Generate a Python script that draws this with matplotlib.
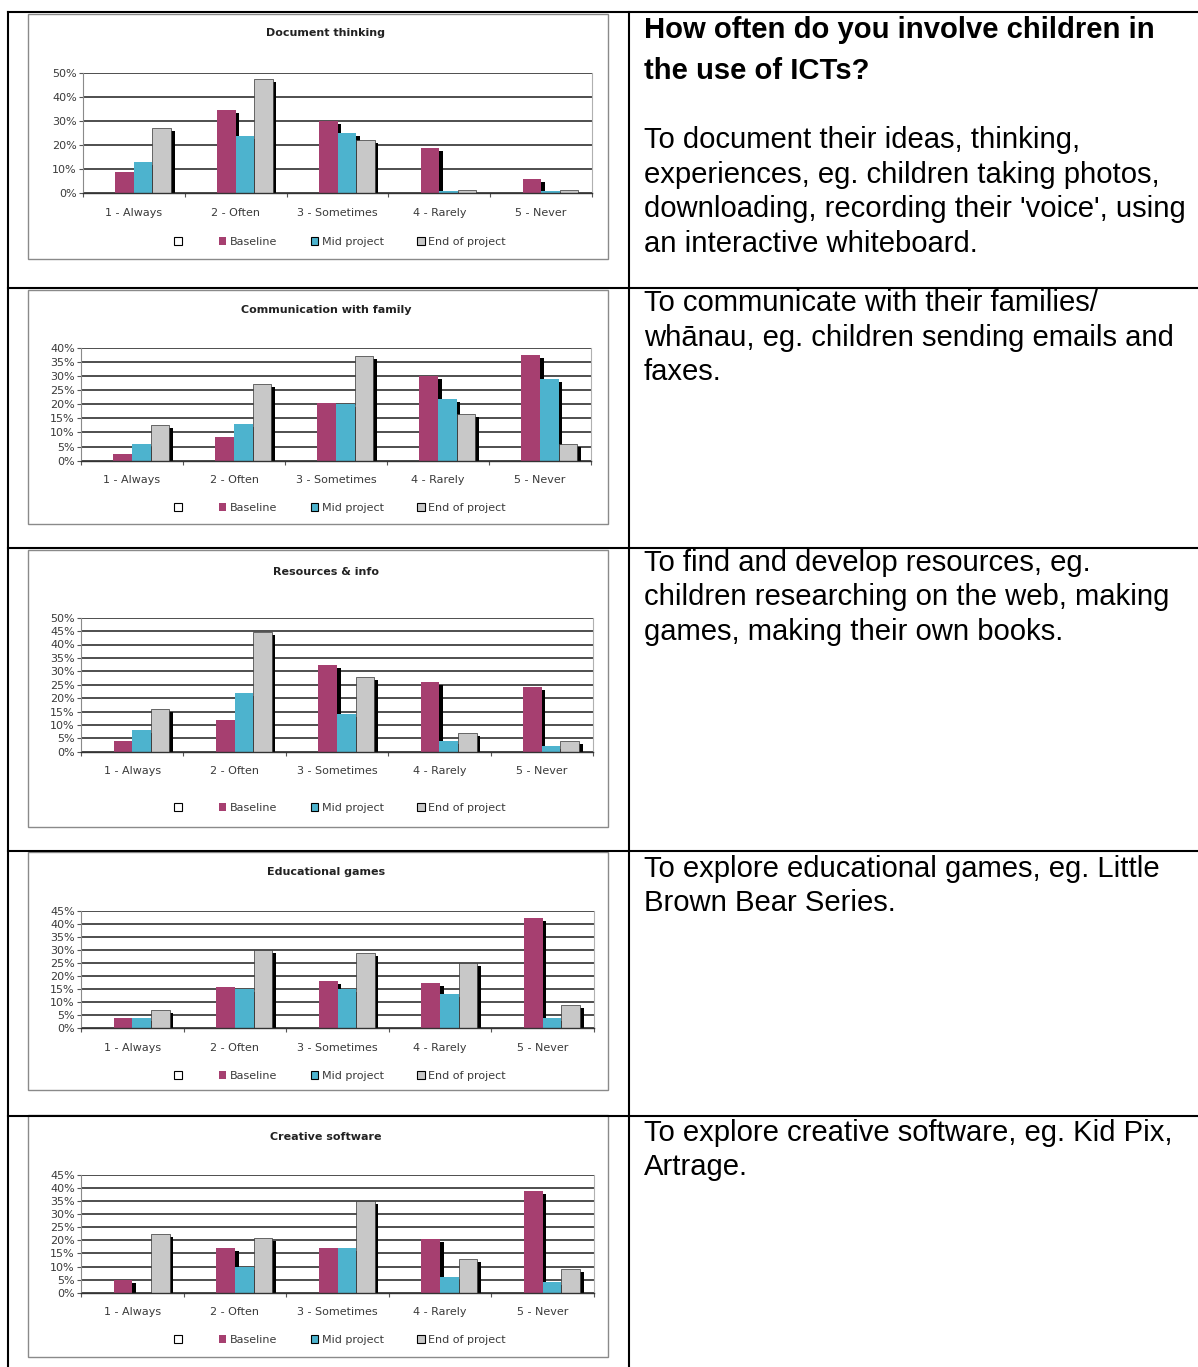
import matplotlib
matplotlib.use('Agg')
import matplotlib.pyplot as plt
from matplotlib.patches import Patch, Rectangle
from matplotlib.lines import Line2D
import matplotlib.patheffects as pe
import numpy as np

W, H, DPI = 1198, 1367, 100

categories = ['1 - Always', '2 - Often', '3 - Sometimes', '4 - Rarely', '5 - Never']
series_names = ['', 'Baseline', 'Mid project', 'End of project']

chart_titles = ['Document thinking', 'Communication with family', 'Resources & info',
                'Educational games', 'Creative software']

doc_baseline = [9, 34.5, 30, 19, 6]
doc_mid = [13, 24, 25, 1, 1]
doc_end = [27, 47.5, 22, 1.5, 1.5]

fam_baseline = [2.5, 8.5, 20.5, 30, 37.5]
fam_mid = [6, 13, 20, 22, 29]
fam_end = [12.5, 27, 37, 16.5, 6]

res_baseline = [4, 12, 32.5, 26, 24]
res_mid = [8, 22, 14, 4, 2]
res_end = [16, 44.5, 28, 7, 4]

games_baseline = [4, 16, 18, 17.5, 42.5]
games_mid = [4, 15, 15, 13, 4]
games_end = [7, 30, 29, 25, 9]

soft_baseline = [5, 17, 17, 20.5, 39]
soft_mid = [0, 10, 17, 6, 4]
soft_end = [22.5, 21, 35, 13, 9]

y_max = [50, 40, 50, 45, 45]
y_step = [10, 5, 5, 5, 5]

header_lines = ['How often do you involve children in', 'the use of ICTs?']
row_texts = [
    ['To document their ideas, thinking,', 'experiences, eg. children taking photos,',
     "downloading, recording their 'voice', using", 'an interactive whiteboard.'],
    ['To communicate with their families/', 'whānau, eg. children sending emails and', 'faxes.'],
    ['To find and develop resources, eg.', 'children researching on the web, making',
     'games, making their own books.'],
    ['To explore educational games, eg. Little', 'Brown Bear Series.'],
    ['To explore creative software, eg. Kid Pix,', 'Artrage.'],
]

# ---- layout (pixels) ----
boxes = [(28, 14, 608, 259), (28, 290, 608, 524), (28, 550, 608, 827), (28, 852, 608, 1090), (28, 1115, 608, 1357)]
plots = [(83, 73, 592, 193.3), (81, 347.7, 591, 460.7), (81, 617.7, 593, 751.7),
         (81, 911, 594, 1028.3), (81, 1175, 594, 1292.7)]
title_y = [33, 310, 572, 872, 1137]
legend_y = [242, 508, 808, 1076, 1340]
text_y = [[140, 175, 209, 244], [303, 338, 372], [563, 597, 632], [869, 903], [1133, 1167]]
header_y = [30, 71]

C_BASE = '#A63F70'
C_MID = '#4DB3CE'
C_END = '#C8C8C8'
TXT = '#3a3a3a'
FS = 8

data = [
    (doc_baseline, doc_mid, doc_end),
    (fam_baseline, fam_mid, fam_end),
    (res_baseline, res_mid, res_end),
    (games_baseline, games_mid, games_end),
    (soft_baseline, soft_mid, soft_end),
]

fig = plt.figure(figsize=(W / DPI, H / DPI), dpi=DPI)
fig.patch.set_facecolor('white')

def fx(x):
    return x / W

def fy(y):
    return 1 - y / H

# table lines
lw_tab = 1.5
for (xa, ya, xb, yb) in [(8, 12, 1198, 12), (8, 12, 8, 1367), (629, 12, 629, 1367),
                         (8, 288, 1198, 288), (8, 548, 1198, 548), (8, 851, 1198, 851),
                         (8, 1116, 1198, 1116)]:
    fig.add_artist(Line2D([fx(xa), fx(xb)], [fy(ya), fy(yb)], color='black', lw=lw_tab,
                          transform=fig.transFigure, solid_capstyle='projecting'))

x = np.arange(len(categories))
w = 1 / 5.5
colors = [None, C_BASE, C_MID, C_END]
shadow = [pe.SimplePatchShadow(offset=(2.6, -2.2), shadow_rgbFace='black', alpha=1.0), pe.Normal()]

for i in range(5):
    bx0, by0, bx1, by1 = boxes[i]
    fig.add_artist(Rectangle((fx(bx0), fy(by1)), fx(bx1 - bx0), (by1 - by0) / H,
                             transform=fig.transFigure, fill=False, edgecolor='#8a8a8a', lw=1.0))
    px0, py0, px1, py1 = plots[i]
    ax = fig.add_axes([fx(px0), fy(py1), fx(px1 - px0), (py1 - py0) / H])
    ax.set_facecolor('white')
    series = data[i]
    for j in range(1, 4):
        vals = series[j - 1]
        if j == 3:
            bars = ax.bar(x + (j - 1.5) * w, vals, width=w, color=colors[j], edgecolor='#333333',
                          linewidth=0.5, zorder=3 + j)
        else:
            bars = ax.bar(x + (j - 1.5) * w, vals, width=w, color=colors[j], linewidth=0, zorder=3 + j)
        for b in bars:
            b.set_path_effects(shadow)
    ax.set_xlim(-0.5, 4.5)
    ax.set_ylim(0, y_max[i])
    ticks = np.arange(0, y_max[i] + 0.1, y_step[i])
    ax.set_yticks(ticks)
    ax.set_yticklabels([f'{int(t)}%' for t in ticks])
    ax.set_xticks(x)
    ax.set_xticklabels(categories)
    ax.set_xticks(np.arange(-0.5, 5, 1), minor=True)
    ax.tick_params(axis='x', which='major', length=0, pad=10.5, labelsize=FS, labelcolor=TXT)
    ax.tick_params(axis='x', which='minor', length=3, width=0.8, color='#555555', direction='out')
    ax.tick_params(axis='y', which='major', length=3, width=0.8, color='#555555', pad=1.5,
                   labelsize=FS, labelcolor=TXT)
    ax.yaxis.grid(True, color='#1e1e1e', lw=1.1)
    ax.set_axisbelow(True)
    ax.spines['top'].set_visible(False)
    ax.spines['right'].set_color('#b0b0b0')
    ax.spines['left'].set_color('#8a8a8a')
    ax.spines['bottom'].set_color('#333333')
    ax.spines['bottom'].set_linewidth(1.0)
    ax.spines['bottom'].set_zorder(10)

    fig.text(fx(326), fy(title_y[i]), chart_titles[i], ha='center', va='center',
             fontsize=FS, fontweight='bold', color='#222222')

    handles = [Patch(facecolor='white', edgecolor='black', lw=0.8),
               Patch(facecolor=C_BASE, edgecolor='none'),
               Patch(facecolor=C_MID, edgecolor='black', lw=0.8),
               Patch(facecolor=C_END, edgecolor='black', lw=0.8)]
    leg = fig.legend(handles, series_names, loc='center', bbox_to_anchor=(fx(340), fy(legend_y[i])),
                     ncol=4, frameon=False, fontsize=FS, handlelength=0.7, handleheight=0.7,
                     handletextpad=0.3, columnspacing=3.0, borderpad=0, borderaxespad=0)
    for t in leg.get_texts():
        t.set_color(TXT)

FONT = ['Liberation Sans', 'DejaVu Sans']
TFS = 21.1
for k, line in enumerate(header_lines):
    fig.text(fx(644), fy(header_y[k]), line, ha='left', va='center', fontsize=TFS,
             fontweight='bold', family=FONT, color='black')
for r, lines in enumerate(row_texts):
    for k, line in enumerate(lines):
        fig.text(fx(644), fy(text_y[r][k]), line, ha='left', va='center', fontsize=TFS,
                 family=FONT, color='black')

fig.savefig('out.png', dpi=DPI, facecolor='white')
